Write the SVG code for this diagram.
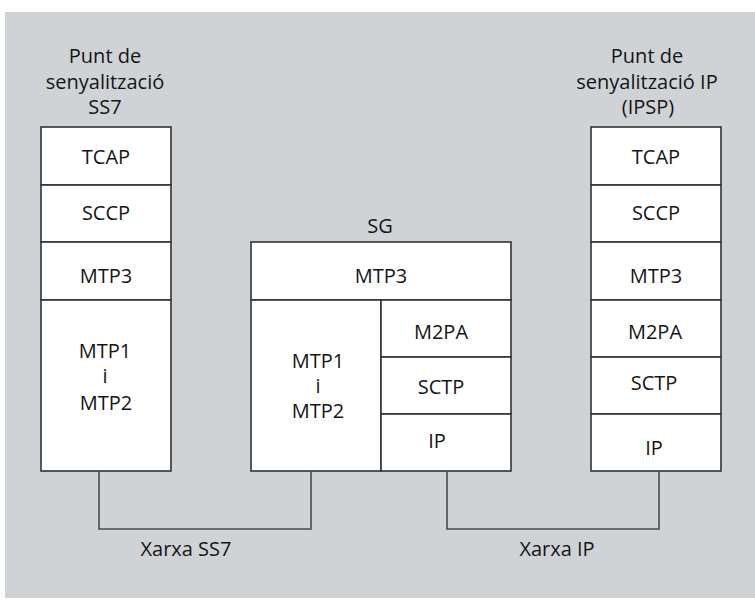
<svg xmlns="http://www.w3.org/2000/svg" width="755" height="600" viewBox="0 0 755 600">
<style>
.bg{fill:#cfd3d6}
.box{fill:#fff;stroke:#333;stroke-width:1.6}
.t{font-family:"Open Sans","Noto Sans",sans-serif;font-size:20px;fill:#151515;text-anchor:middle}
.conn{fill:none;stroke:#4a4a4a;stroke-width:1.6}
</style>
<rect class="bg" x="5" y="12" width="750" height="586"/>

<g id="ss7-point">
<text class="t" x="105" y="63">Punt de</text>
<text class="t" x="105" y="89">senyalització</text>
<text class="t" x="105" y="114">SS7</text>
<rect class="box" x="41" y="127" width="130" height="58"/>
<text class="t" x="106" y="164">TCAP</text>
<rect class="box" x="41" y="185" width="130" height="57"/>
<text class="t" x="106" y="220">SCCP</text>
<rect class="box" x="41" y="242" width="130" height="58"/>
<text class="t" x="106" y="283">MTP3</text>
<rect class="box" x="41" y="300" width="130" height="171"/>
<text class="t" x="105" y="358">MTP1</text>
<text class="t" x="105" y="383">i</text>
<text class="t" x="106" y="410">MTP2</text>
</g>

<g id="sg">
<text class="t" x="380" y="233">SG</text>
<rect class="box" x="251" y="242" width="260" height="58"/>
<text class="t" x="381" y="283">MTP3</text>
<rect class="box" x="251" y="300" width="130" height="171"/>
<text class="t" x="318" y="368">MTP1</text>
<text class="t" x="318" y="393">i</text>
<text class="t" x="318" y="418">MTP2</text>
<rect class="box" x="381" y="300" width="130" height="57"/>
<text class="t" x="441" y="339">M2PA</text>
<rect class="box" x="381" y="357" width="130" height="57"/>
<text class="t" x="441" y="394">SCTP</text>
<rect class="box" x="381" y="414" width="130" height="57"/>
<text class="t" x="437" y="448">IP</text>
</g>

<g id="ip-point">
<text class="t" x="647" y="63">Punt de</text>
<text class="t" x="647" y="89">senyalització IP</text>
<text class="t" x="648" y="114">(IPSP)</text>
<rect class="box" x="591" y="127" width="130" height="58"/>
<text class="t" x="656" y="164">TCAP</text>
<rect class="box" x="591" y="185" width="130" height="57"/>
<text class="t" x="656" y="220">SCCP</text>
<rect class="box" x="591" y="242" width="130" height="58"/>
<text class="t" x="656" y="283">MTP3</text>
<rect class="box" x="591" y="300" width="130" height="57"/>
<text class="t" x="655" y="339">M2PA</text>
<rect class="box" x="591" y="357" width="130" height="57"/>
<text class="t" x="654" y="390">SCTP</text>
<rect class="box" x="591" y="414" width="130" height="57"/>
<text class="t" x="654" y="455">IP</text>
</g>

<g id="connectors">
<polyline class="conn" points="99,471 99,529 311,529 311,471"/>
<polyline class="conn" points="447,471 447,529 659,529 659,471"/>
</g>

<g id="labels">
<text class="t" x="186" y="556">Xarxa SS7</text>
<text class="t" x="557" y="556">Xarxa IP</text>
</g>
</svg>
